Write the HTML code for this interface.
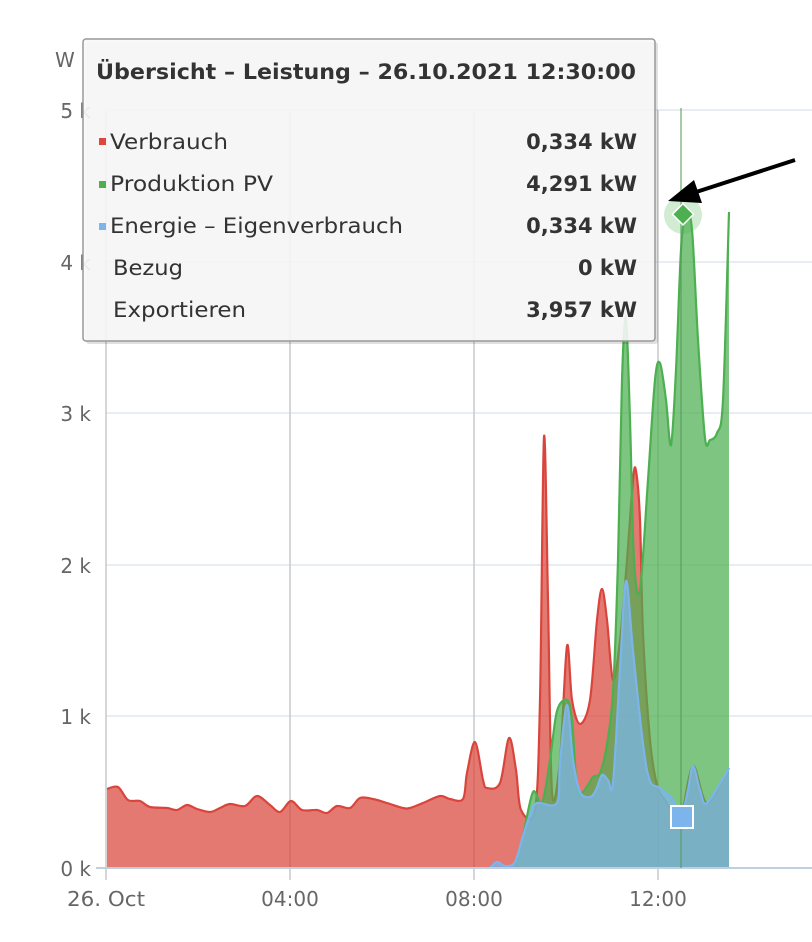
<!DOCTYPE html>
<html><head><meta charset="utf-8">
<style>
html,body{margin:0;padding:0;background:#fff;}
svg{display:block;font-family:"DejaVu Sans","Liberation Sans",sans-serif;}
</style></head>
<body>
<svg id="s" width="812" height="942" viewBox="0 0 812 942" xmlns="http://www.w3.org/2000/svg">
<g stroke="#dfe7ef" stroke-width="1.5">
<line x1="106" y1="110" x2="812" y2="110"/><line x1="106" y1="262" x2="812" y2="262"/>
<line x1="106" y1="413" x2="812" y2="413"/><line x1="106" y1="565" x2="812" y2="565"/>
<line x1="106" y1="716" x2="812" y2="716"/>
</g>
<g stroke="#c8c8c8" stroke-width="1.5">
<line x1="106" y1="110" x2="106" y2="880"/><line x1="290" y1="110" x2="290" y2="880"/>
<line x1="474" y1="110" x2="474" y2="880"/><line x1="658" y1="110" x2="658" y2="880"/>
</g>
<g id="series"></g>
<line x1="96" y1="868" x2="812" y2="868" stroke="#c0cee2" stroke-width="2"/>
<line x1="681" y1="108" x2="681" y2="868" stroke="#5a9a5a" stroke-opacity="0.7" stroke-width="1.5"/>
<g fill="#666" font-size="20" text-anchor="end">
<text x="91" y="118">5 k</text><text x="91" y="270">4 k</text><text x="91" y="421">3 k</text>
<text x="91" y="573">2 k</text><text x="91" y="724">1 k</text><text x="91" y="876">0 k</text>
</g>
<text x="55" y="67" fill="#666" font-size="20">W</text>
<g fill="#666" font-size="20" text-anchor="middle">
<text x="106" y="906" textLength="78" lengthAdjust="spacingAndGlyphs">26. Oct</text><text x="290" y="906">04:00</text>
<text x="474" y="906">08:00</text><text x="658" y="906">12:00</text>
</g>
<circle cx="683" cy="215" r="19" fill="#4caf50" fill-opacity="0.25"/>
<rect x="675" y="207" width="15" height="15" fill="#4caf50" stroke="#fff" stroke-width="1.5" transform="rotate(45 683 215)"/>
<rect x="671" y="806" width="22" height="22" fill="#7cb5ec" stroke="#fff" stroke-width="2"/>
<line x1="795" y1="160" x2="690" y2="194" stroke="#000" stroke-width="4"/>
<polygon points="668,201 694,180 702,203" fill="#000"/>
<rect x="86" y="42" width="572" height="302" fill="#000" fill-opacity="0.12" rx="3"/>
<rect x="83" y="39" width="572" height="302" fill="#f8f8f8" fill-opacity="0.9" stroke="#999" stroke-width="1.5" rx="3"/>
<text x="96" y="79" font-size="21" font-weight="bold" fill="#333" textLength="540" lengthAdjust="spacingAndGlyphs">Übersicht – Leistung – 26.10.2021 12:30:00</text>
<g font-size="21" fill="#333">
<rect x="99" y="138" width="7" height="7" fill="#e0453b"/><text x="110" y="149" textLength="118" lengthAdjust="spacingAndGlyphs">Verbrauch</text>
<rect x="99" y="181" width="7" height="7" fill="#4caf50"/><text x="110" y="191" textLength="163" lengthAdjust="spacingAndGlyphs">Produktion PV</text>
<rect x="99" y="223" width="7" height="7" fill="#7cb5ec"/><text x="110" y="233" textLength="293" lengthAdjust="spacingAndGlyphs">Energie – Eigenverbrauch</text>
<text x="113" y="275" textLength="70" lengthAdjust="spacingAndGlyphs">Bezug</text><text x="113" y="317" textLength="133" lengthAdjust="spacingAndGlyphs">Exportieren</text>
</g>
<g font-size="21" font-weight="bold" fill="#333" text-anchor="end">
<text x="637" y="149">0,334 kW</text><text x="637" y="191">4,291 kW</text><text x="637" y="233">0,334 kW</text>
<text x="637" y="275">0 kW</text><text x="637" y="317">3,957 kW</text>
</g>
</svg>
<script>
function cr(p){let d="M"+p[0][0]+","+p[0][1];for(let i=0;i<p.length-1;i++){const a=p[Math.max(i-1,0)],b=p[i],c=p[i+1],e=p[Math.min(i+2,p.length-1)];const t=0.16;d+=" C"+(b[0]+(c[0]-a[0])*t)+","+(b[1]+(c[1]-a[1])*t)+" "+(c[0]-(e[0]-b[0])*t)+","+(c[1]-(e[1]-b[1])*t)+" "+c[0]+","+c[1];}return d;}
const red=[[107,789],[118,787],[128,800],[140,801],[150,807],[167,808],[177,810],[187,805],[197,809],[210,812],[220,808],[230,804],[245,806],[257,796],[270,805],[280,812],[291,801],[302,810],[317,810],[327,813],[337,806],[350,808],[360,798],[373,799],[387,803],[403,808],[410,808],[423,803],[440,796],[450,799],[463,799],[467,773],[475,742],[483,780],[487,788],[500,783],[509,738],[516,770],[521,810],[535,810],[540,700],[544,437],[548,600],[552,792],[560,760],[567,646],[572,700],[580,724],[590,700],[597,620],[602,589],[607,620],[613,680],[620,640],[627,560],[633,480],[636,471],[640,520],[643,633],[650,740],[657,785],[665,800],[673,812],[681,817],[693,766],[707,803],[729,768]];
const green=[[515,868],[523,836],[533,792],[542,803],[550,760],[557,711],[567,700],[572,720],[577,788],[583,792],[593,777],[600,773],[607,744],[613,692],[618,560],[622,380],[626,318],[630,420],[634,560],[640,590],[648,480],[655,380],[660,363],[666,400],[671,445],[676,370],[681,250],[686,212],[692,230],[698,340],[705,438],[710,440],[717,433],[723,400],[729,212]];
const blue=[[490,868],[497,862],[505,866],[515,862],[523,836],[530,815],[537,803],[557,803],[560,762],[567,705],[573,760],[580,792],[590,797],[596,790],[602,775],[608,780],[613,783],[620,670],[626,581],[633,651],[643,744],[650,781],[660,788],[673,800],[681,817],[688,790],[693,766],[700,790],[707,803],[729,768]];
function area(p,fill,stroke){const l=cr(p);const last=p[p.length-1],first=p[0];return '<path d="'+l+' L'+last[0]+',868 L'+first[0]+',868 Z" fill="'+fill+'" fill-opacity="0.72"/><path d="'+l+'" fill="none" stroke="'+stroke+'" stroke-width="2.2"/>';}
document.getElementById("series").innerHTML=area(red,"#d9453c","#d9453c")+area(green,"#4caf50","#4caf50")+area(blue,"#7cb5ec","#7cb5ec");
</script>
</body></html>
